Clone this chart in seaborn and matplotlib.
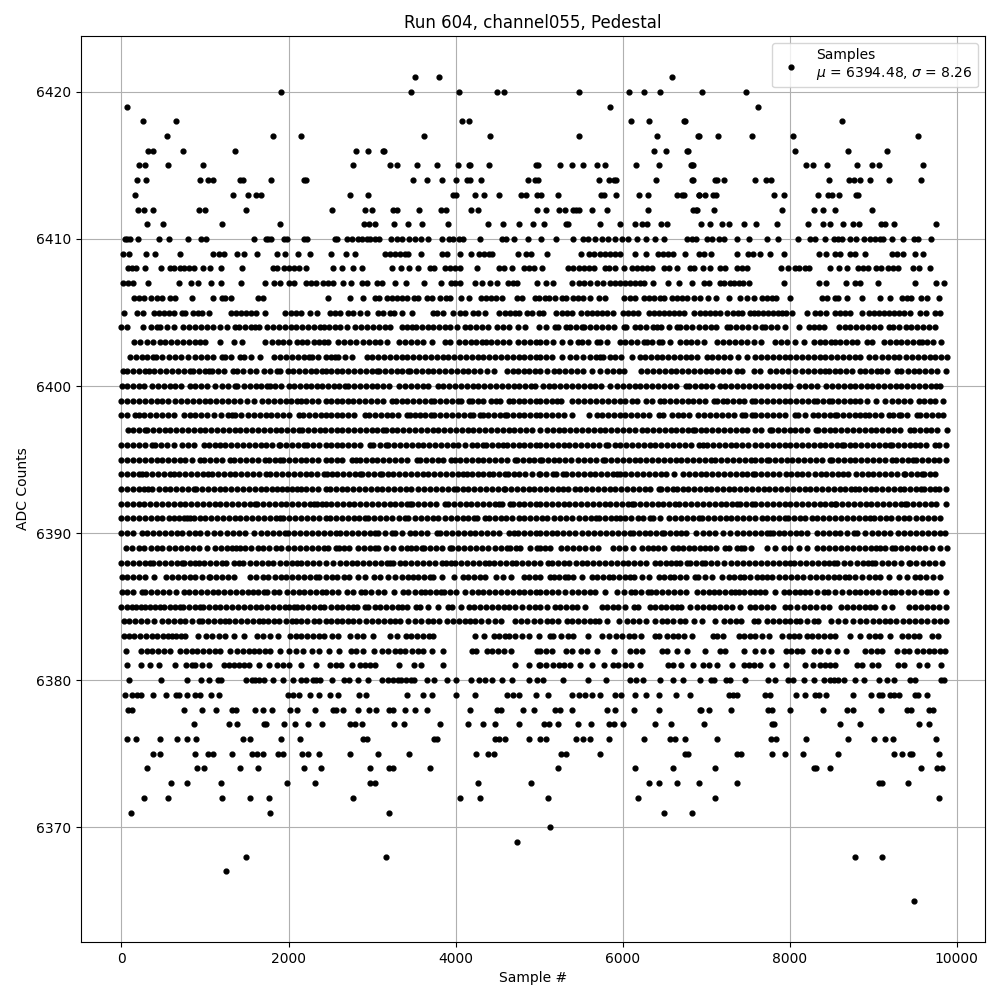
import pandas as pd
import seaborn as sns
import matplotlib
matplotlib.use('Agg')
import matplotlib.pyplot as plt

# sample numbers, one list per ADC level
s6365 = [9488]
s6367 = [1256]
s6368 = [1496, 3164, 8780, 9104]
s6369 = [4732]
s6370 = [5128]
s6371 = [116, 1784, 3200, 6496, 6836]
s6372 = [272, 560, 1208, 1544, 1772, 2768, 4048, 4288, 5104, 6184, 7112, 9788]
s6373 = [596, 788, 1196, 1976, 2312, 2972, 3032, 4264, 4900, 6316, 6436, 6652, 6916, 7376, 9068, 9104, 9416]
s6374 = [308, 908, 992, 1424, 1640, 2180, 2384, 2972, 3200, 3248, 3700, 5224, 6148, 6604, 7112, 8288, 8312, 8480, 9572, 9764, 9824]
s6375 = [380, 464, 884, 1040, 1100, 1328, 1568, 1628, 1700, 1880, 1940, 2156, 2228, 2360, 2732, 3068, 3448, 4240, 4384, 4456, 5260, 5320, 5728, 6748, 6784, 7376, 7424, 7796, 7940, 8156, 8576, 9248, 9344, 9440, 9464, 9788]
s6376 = [68, 176, 464, 668, 788, 896, 1460, 1544, 1916, 2132, 2888, 2936, 3748, 3784, 4468, 4516, 4588, 4876, 5008, 5080, 5440, 5524, 5608, 5836, 6256, 6568, 6628, 6748, 7136, 7784, 7844, 8192, 8696, 9008, 9140, 9236, 9752]
s6377 = [872, 1292, 1388, 1712, 1736, 1952, 2072, 2228, 2396, 2732, 2792, 2876, 3260, 3388, 3820, 4144, 4324, 4468, 4756, 5056, 5116, 5224, 5464, 5620, 5836, 5896, 6004, 6388, 6580, 6980, 7796, 7820, 8600, 8840, 9548, 9668]
s6378 = [80, 128, 752, 968, 1136, 1328, 1376, 1604, 1700, 1808, 2012, 2096, 2312, 2528, 2564, 2648, 2828, 2960, 3044, 3200, 3248, 3400, 3520, 3664, 4168, 4492, 4540, 4804, 4936, 5188, 5248, 5392, 5812, 5908, 6136, 6436, 6928, 6944, 7040, 7304, 7748, 7796, 8000, 8396, 8684, 8756, 9092, 9404, 9452, 9668, 9716]
s6379 = [44, 128, 188, 236, 380, 536, 656, 692, 788, 884, 944, 1076, 1172, 1988, 2048, 2120, 2252, 2360, 2492, 2588, 2840, 2924, 3424, 3616, 3724, 4000, 4228, 4612, 4684, 4756, 4960, 5112, 5392, 5476, 5548, 5632, 5728, 5908, 5980, 6148, 6280, 6436, 6640, 6808, 7280, 7328, 7376, 7712, 7772, 8072, 8180, 8300, 8348, 8432, 8756, 8972, 9068, 9104, 9200, 9248, 9308, 9500, 9536, 9644]
s6380 = [92, 476, 788, 956, 1052, 1160, 1196, 1496, 1568, 1604, 1652, 1712, 1820, 1940, 2048, 2144, 2204, 2288, 2324, 2372, 2516, 2660, 2720, 2828, 2948, 3116, 3188, 3248, 3308, 3352, 3412, 3472, 3508, 3664, 3748, 3904, 4000, 4180, 4276, 4348, 4432, 4552, 4672, 4876, 4972, 5044, 5284, 5584, 5800, 6088, 6160, 6244, 6448, 6604, 6724, 6932, 7064, 7100, 7244, 7292, 7472, 7748, 7832, 7976, 8036, 8168, 8288, 8408, 8480, 8528, 8576, 8648, 8780, 8888, 9068, 9164, 9248, 9440, 9500, 9812, 9848]
s6381 = [64, 232, 344, 448, 640, 776, 840, 884, 964, 1044, 1224, 1290, 1350, 1404, 1464, 1524, 1652, 1772, 1864, 1930, 2004, 2144, 2328, 2496, 2564, 2628, 2756, 2856, 2920, 2980, 3036, 3324, 3508, 3588, 3856, 4716, 4884, 4996, 5012, 5084, 5172, 5240, 5305, 5372, 5492, 5636, 5780, 5884, 5950, 6032, 6100, 6204, 6540, 6600, 6700, 6840, 6964, 7030, 7132, 7312, 7460, 7520, 7572, 7648, 7796, 7956, 8180, 8276, 8368, 8430, 8490, 8548, 8808, 8870, 8990, 9060, 9300, 9368, 9548, 9648, 9820]
s6382 = [48, 236, 300, 370, 440, 510, 584, 704, 770, 840, 910, 980, 1050, 1120, 1184, 1304, 1380, 1450, 1524, 1584, 1650, 1720, 1776, 1904, 2004, 2084, 2176, 2284, 2364, 2488, 2608, 2748, 2804, 2896, 3028, 3116, 3196, 3270, 3340, 3396, 3476, 3545, 3616, 3724, 3856, 4196, 4244, 4376, 4440, 4510, 4576, 4668, 4976, 5016, 5085, 5152, 5324, 5392, 5500, 5572, 5700, 5904, 6092, 6165, 6232, 6472, 6532, 6648, 6772, 6988, 7164, 7232, 7452, 7588, 7688, 7780, 7956, 8020, 8085, 8148, 8288, 8370, 8460, 8564, 8676, 8908, 8980, 9048, 9108, 9288, 9368, 9436, 9528, 9600, 9670, 9735, 9800, 9860]
s6383 = [32, 90, 144, 224, 290, 360, 430, 500, 560, 604, 652, 710, 764, 912, 1016, 1084, 1165, 1244, 1352, 1464, 1624, 1700, 1776, 1876, 2016, 2085, 2150, 2220, 2290, 2360, 2424, 2524, 2596, 2736, 2820, 2896, 3016, 3216, 3296, 3404, 3470, 3540, 3610, 3680, 3736, 4236, 4336, 4456, 4520, 4590, 4644, 4716, 4796, 4884, 4996, 5132, 5172, 5260, 5352, 5412, 5592, 5752, 5844, 5920, 5992, 6072, 6140, 6220, 6392, 6432, 6532, 6600, 6670, 6740, 6828, 7084, 7132, 7200, 7392, 7460, 7524, 7588, 7668, 7756, 7908, 7988, 8050, 8108, 8208, 8275, 8340, 8410, 8480, 8548, 8728, 8840, 8948, 9020, 9088, 9208, 9348, 9420, 9490, 9548, 9708, 9780]
s6384 = [24, 95, 165, 235, 310, 384, 484, 555, 625, 695, 765, 845, 924, 964, 1035, 1105, 1175, 1244, 1284, 1355, 1430, 1500, 1575, 1644, 1696, 1760, 1824, 1884, 1965, 2044, 2084, 2155, 2225, 2300, 2370, 2444, 2510, 2580, 2645, 2708, 2776, 2850, 2925, 3000, 3070, 3140, 3210, 3275, 3336, 3436, 3510, 3590, 3665, 3736, 3804, 3896, 3970, 4040, 4110, 4176, 4236, 4308, 4390, 4470, 4548, 4716, 4785, 4860, 4940, 5016, 5090, 5160, 5230, 5332, 5392, 5465, 5535, 5605, 5665, 5724, 5820, 5952, 6052, 6125, 6200, 6284, 6392, 6472, 6532, 6610, 6684, 6752, 6852, 6952, 7104, 7212, 7285, 7355, 7424, 7572, 7628, 7728, 7800, 7870, 7940, 8010, 8076, 8128, 8210, 8288, 8336, 8500, 8580, 8660, 8756, 8840, 8920, 8996, 9068, 9148, 9208, 9280, 9355, 9430, 9500, 9580, 9650, 9725, 9800, 9876]
s6385 = [0, 60, 124, 176, 230, 284, 336, 400, 464, 504, 576, 640, 704, 736, 810, 880, 944, 976, 1045, 1115, 1185, 1255, 1325, 1395, 1465, 1535, 1605, 1675, 1745, 1815, 1885, 1955, 2010, 2064, 2096, 2164, 2235, 2305, 2376, 2424, 2505, 2575, 2640, 2710, 2776, 2816, 2916, 2956, 3030, 3100, 3170, 3245, 3316, 3356, 3416, 3524, 3576, 3668, 3796, 3916, 3956, 4068, 4156, 4225, 4295, 4365, 4435, 4505, 4575, 4645, 4715, 4795, 4876, 4948, 5016, 5092, 5192, 5252, 5320, 5390, 5460, 5552, 5752, 5820, 5892, 5940, 6035, 6132, 6184, 6324, 6392, 6460, 6524, 6590, 6652, 6700, 6804, 6892, 6960, 7030, 7100, 7170, 7240, 7310, 7412, 7532, 7592, 7660, 7730, 7808, 7940, 8010, 8090, 8168, 8248, 8320, 8400, 8476, 8620, 8688, 8760, 8830, 8900, 8965, 9028, 9128, 9228, 9428, 9500, 9575, 9650, 9720, 9795, 9868]
s6386 = [4, 70, 140, 244, 284, 355, 425, 495, 564, 648, 744, 810, 880, 950, 1020, 1090, 1160, 1230, 1300, 1370, 1440, 1510, 1580, 1640, 1704, 1744, 1832, 1884, 1984, 2050, 2120, 2190, 2260, 2330, 2400, 2444, 2520, 2596, 2696, 2776, 2868, 2916, 2990, 3070, 3148, 3268, 3376, 3436, 3510, 3588, 3636, 3700, 3770, 3828, 3868, 3940, 4010, 4116, 4196, 4265, 4335, 4405, 4475, 4545, 4615, 4685, 4755, 4825, 4895, 4965, 5016, 5085, 5155, 5230, 5312, 5392, 5465, 5535, 5605, 5675, 5792, 5932, 6015, 6100, 6152, 6225, 6300, 6344, 6404, 6475, 6545, 6620, 6690, 6764, 6892, 6960, 7030, 7100, 7152, 7225, 7295, 7352, 7400, 7460, 7530, 7592, 7650, 7708, 7828, 7928, 7988, 8060, 8125, 8188, 8248, 8330, 8408, 8460, 8545, 8628, 8708, 8780, 8850, 8920, 8990, 9060, 9140, 9220, 9268, 9340, 9420, 9490, 9570, 9648, 9688, 9760, 9868]
s6387 = [4, 70, 140, 210, 284, 384, 536, 605, 675, 745, 815, 885, 965, 1044, 1064, 1135, 1205, 1275, 1344, 1544, 1615, 1690, 1760, 1835, 1905, 1975, 2045, 2115, 2185, 2255, 2324, 2364, 2444, 2515, 2585, 2660, 2730, 2836, 2916, 3028, 3096, 3196, 3276, 3355, 3436, 3496, 3556, 3625, 3696, 3736, 3844, 3976, 4084, 4155, 4225, 4290, 4356, 4484, 4570, 4668, 4816, 4885, 4955, 5016, 5132, 5180, 5245, 5312, 5352, 5412, 5512, 5632, 5700, 5770, 5844, 5892, 5960, 6030, 6090, 6140, 6232, 6312, 6432, 6500, 6572, 6620, 6690, 6760, 6872, 6900, 6985, 7072, 7192, 7270, 7340, 7412, 7460, 7532, 7608, 7670, 7728, 7796, 7870, 7940, 8015, 8090, 8165, 8240, 8315, 8390, 8465, 8530, 8588, 8660, 8716, 8790, 8870, 8950, 9028, 9088, 9196, 9316, 9410, 9508, 9568, 9640, 9715, 9808]
s6388 = [0, 70, 140, 210, 280, 344, 376, 445, 515, 590, 660, 724, 752, 815, 880, 924, 984, 1055, 1130, 1204, 1256, 1352, 1405, 1456, 1536, 1605, 1680, 1750, 1820, 1895, 1965, 2040, 2100, 2144, 2224, 2295, 2370, 2444, 2536, 2616, 2684, 2755, 2825, 2895, 2965, 3040, 3110, 3180, 3216, 3256, 3330, 3400, 3470, 3540, 3610, 3680, 3750, 3836, 3884, 3948, 3996, 4065, 4135, 4205, 4280, 4356, 4396, 4456, 4530, 4605, 4676, 4724, 4795, 4865, 4940, 5016, 5112, 5152, 5225, 5295, 5365, 5440, 5512, 5572, 5645, 5715, 5785, 5860, 5930, 6000, 6070, 6140, 6210, 6280, 6392, 6444, 6515, 6585, 6644, 6684, 6772, 6804, 6880, 6952, 6992, 7060, 7135, 7212, 7300, 7375, 7445, 7512, 7588, 7660, 7730, 7800, 7870, 7940, 8008, 8048, 8125, 8200, 8268, 8340, 8410, 8470, 8528, 8568, 8650, 8728, 8808, 8880, 8945, 8988, 9028, 9108, 9180, 9255, 9340, 9428, 9448, 9520, 9595, 9670, 9745, 9828]
s6389 = [56, 130, 205, 275, 350, 420, 490, 565, 635, 710, 780, 855, 925, 1024, 1124, 1190, 1260, 1320, 1376, 1424, 1484, 1555, 1630, 1700, 1770, 1845, 1915, 1990, 2060, 2135, 2205, 2280, 2350, 2424, 2476, 2564, 2604, 2665, 2724, 2828, 2900, 2970, 3036, 3076, 3164, 3256, 3348, 3416, 3468, 3530, 3596, 3628, 3695, 3765, 3835, 3936, 3956, 4030, 4100, 4175, 4245, 4320, 4395, 4470, 4545, 4616, 4656, 4720, 4776, 4896, 4976, 5012, 5075, 5132, 5260, 5330, 5405, 5480, 5555, 5630, 5712, 5892, 5952, 6024, 6120, 6232, 6300, 6370, 6430, 6492, 6600, 6660, 6725, 6792, 6852, 6925, 6990, 7052, 7120, 7232, 7272, 7372, 7420, 7460, 7540, 7728, 7828, 7928, 8000, 8108, 8208, 8328, 8400, 8470, 8545, 8615, 8690, 8760, 8830, 8900, 8970, 9030, 9088, 9148, 9228, 9268, 9340, 9410, 9480, 9555, 9628, 9708, 9800, 9888]
s6390 = [0, 70, 140, 244, 304, 375, 445, 515, 590, 660, 730, 805, 875, 944, 1024, 1112, 1185, 1260, 1330, 1405, 1484, 1592, 1665, 1740, 1815, 1890, 1964, 1992, 2065, 2140, 2210, 2285, 2355, 2424, 2500, 2564, 2616, 2690, 2760, 2835, 2905, 2975, 3036, 3068, 3150, 3236, 3276, 3360, 3456, 3516, 3590, 3660, 3776, 3816, 3890, 3960, 4030, 4105, 4176, 4236, 4310, 4380, 4450, 4516, 4636, 4696, 4748, 4820, 4890, 4960, 5016, 5084, 5150, 5220, 5284, 5355, 5432, 5512, 5585, 5660, 5730, 5805, 5880, 5950, 6020, 6084, 6124, 6195, 6265, 6335, 6405, 6472, 6500, 6570, 6640, 6700, 6764, 6884, 6960, 7032, 7112, 7200, 7292, 7372, 7445, 7520, 7592, 7660, 7725, 7768, 7808, 7870, 7928, 8008, 8075, 8140, 8208, 8328, 8400, 8470, 8540, 8610, 8690, 8768, 8808, 8900, 8988, 9060, 9135, 9205, 9295, 9368, 9448, 9520, 9590, 9660, 9730, 9800, 9860]
s6391 = [0, 70, 140, 210, 280, 350, 420, 490, 564, 632, 684, 744, 785, 824, 864, 935, 1005, 1075, 1145, 1215, 1285, 1355, 1425, 1495, 1565, 1635, 1705, 1775, 1845, 1904, 1936, 2010, 2080, 2150, 2220, 2295, 2370, 2444, 2496, 2570, 2640, 2710, 2780, 2850, 2916, 2948, 3020, 3095, 3170, 3245, 3320, 3396, 3428, 3516, 3590, 3660, 3730, 3796, 3876, 3945, 4015, 4085, 4150, 4216, 4256, 4356, 4396, 4470, 4540, 4610, 4680, 4755, 4825, 4895, 4965, 5032, 5100, 5175, 5250, 5325, 5400, 5475, 5550, 5620, 5684, 5724, 5790, 5860, 5920, 5972, 6032, 6105, 6180, 6250, 6324, 6364, 6444, 6552, 6632, 6700, 6770, 6840, 6912, 6952, 7025, 7095, 7165, 7235, 7305, 7375, 7445, 7515, 7592, 7665, 7735, 7805, 7875, 7948, 7976, 8050, 8120, 8190, 8265, 8335, 8405, 8475, 8545, 8615, 8688, 8756, 8830, 8900, 8968, 9008, 9080, 9150, 9220, 9295, 9365, 9435, 9510, 9585, 9660, 9730, 9808]
s6392 = [0, 68, 135, 205, 275, 345, 415, 485, 555, 625, 695, 765, 835, 905, 975, 1045, 1115, 1185, 1255, 1325, 1395, 1465, 1535, 1604, 1624, 1695, 1765, 1835, 1905, 1975, 2045, 2115, 2185, 2255, 2304, 2336, 2400, 2444, 2510, 2580, 2650, 2720, 2790, 2860, 2930, 3000, 3070, 3140, 3210, 3280, 3350, 3420, 3456, 3484, 3555, 3625, 3695, 3765, 3876, 3908, 3980, 4050, 4120, 4190, 4260, 4330, 4400, 4470, 4516, 4556, 4656, 4684, 4755, 4825, 4895, 4965, 5016, 5085, 5155, 5225, 5295, 5365, 5435, 5505, 5575, 5645, 5715, 5785, 5855, 5925, 5995, 6065, 6112, 6140, 6210, 6280, 6350, 6420, 6490, 6560, 6632, 6672, 6752, 6825, 6895, 6965, 7035, 7105, 7175, 7245, 7315, 7372, 7404, 7475, 7545, 7592, 7660, 7730, 7800, 7870, 7940, 8010, 8080, 8150, 8220, 8290, 8360, 8430, 8500, 8540, 8560, 8630, 8700, 8770, 8840, 8910, 8980, 9050, 9120, 9190, 9260, 9330, 9388, 9408, 9480, 9550, 9620, 9690, 9760, 9868]
s6393 = [0, 70, 140, 205, 264, 312, 364, 444, 515, 585, 655, 725, 795, 864, 896, 965, 1035, 1105, 1175, 1245, 1315, 1385, 1455, 1525, 1595, 1665, 1735, 1805, 1865, 1924, 1984, 2045, 2104, 2144, 2215, 2285, 2355, 2444, 2496, 2565, 2635, 2705, 2775, 2845, 2915, 2985, 3055, 3125, 3195, 3265, 3335, 3405, 3468, 3556, 3625, 3695, 3765, 3835, 3905, 3976, 4016, 4085, 4155, 4225, 4295, 4365, 4435, 4505, 4576, 4596, 4665, 4735, 4805, 4875, 4945, 5016, 5085, 5155, 5225, 5292, 5352, 5425, 5495, 5565, 5635, 5705, 5775, 5845, 5915, 5985, 6055, 6125, 6195, 6265, 6335, 6432, 6460, 6530, 6604, 6652, 6720, 6790, 6860, 6932, 7000, 7060, 7130, 7200, 7270, 7340, 7410, 7480, 7550, 7620, 7690, 7760, 7830, 7900, 7970, 8040, 8110, 8180, 8250, 8320, 8390, 8460, 8530, 8600, 8670, 8740, 8788, 8828, 8900, 8970, 9040, 9110, 9180, 9250, 9320, 9368, 9448, 9515, 9580, 9608, 9680, 9748, 9788, 9876]
s6394 = [0, 70, 140, 205, 244, 296, 365, 435, 505, 575, 624, 692, 764, 835, 905, 975, 1036, 1084, 1155, 1225, 1295, 1365, 1435, 1505, 1575, 1645, 1736, 1784, 1855, 1925, 1995, 2065, 2135, 2205, 2275, 2345, 2424, 2456, 2516, 2585, 2655, 2725, 2795, 2856, 2884, 2955, 3025, 3096, 3124, 3190, 3256, 3324, 3395, 3465, 3535, 3605, 3675, 3745, 3815, 3885, 3955, 4025, 4084, 4136, 4196, 4265, 4335, 4396, 4448, 4520, 4590, 4628, 4696, 4765, 4835, 4916, 4996, 5012, 5085, 5164, 5204, 5292, 5324, 5395, 5465, 5535, 5605, 5675, 5745, 5815, 5885, 5932, 5964, 6035, 6105, 6175, 6245, 6315, 6385, 6455, 6525, 6620, 6724, 6795, 6865, 6935, 7005, 7075, 7145, 7215, 7285, 7355, 7425, 7495, 7565, 7592, 7660, 7730, 7800, 7870, 7956, 8012, 8085, 8155, 8225, 8300, 8376, 8436, 8505, 8575, 8645, 8700, 8796, 8865, 8935, 9005, 9075, 9145, 9215, 9285, 9368, 9388, 9460, 9530, 9588, 9616, 9685, 9748]
s6395 = [0, 70, 140, 210, 280, 350, 420, 490, 560, 630, 700, 764, 844, 936, 992, 1065, 1135, 1205, 1304, 1352, 1425, 1495, 1565, 1635, 1724, 1764, 1835, 1904, 1936, 2005, 2075, 2145, 2215, 2285, 2355, 2444, 2505, 2575, 2645, 2764, 2804, 2856, 2925, 2995, 3065, 3135, 3205, 3275, 3345, 3415, 3536, 3576, 3645, 3715, 3785, 3855, 3948, 3988, 4055, 4125, 4195, 4265, 4335, 4405, 4475, 4545, 4615, 4716, 4736, 4805, 4875, 4945, 5016, 5032, 5105, 5175, 5245, 5315, 5385, 5472, 5544, 5615, 5685, 5764, 5792, 5865, 5935, 6005, 6075, 6145, 6215, 6285, 6355, 6425, 6495, 6565, 6635, 6705, 6775, 6845, 6915, 6985, 7060, 7112, 7185, 7255, 7325, 7395, 7465, 7535, 7592, 7660, 7728, 7756, 7825, 7895, 7965, 8035, 8105, 8175, 8245, 8315, 8385, 8488, 8508, 8580, 8650, 8720, 8790, 8860, 8930, 9000, 9070, 9140, 9228, 9276, 9345, 9415, 9476, 9516, 9585, 9655, 9725, 9795, 9876]
s6396 = [0, 70, 140, 210, 280, 364, 404, 475, 545, 624, 724, 795, 865, 984, 1044, 1124, 1176, 1245, 1315, 1385, 1455, 1525, 1595, 1665, 1735, 1805, 1884, 1904, 1975, 2045, 2115, 2184, 2224, 2295, 2365, 2444, 2505, 2575, 2645, 2715, 2785, 2855, 2976, 3016, 3090, 3164, 3196, 3265, 3335, 3405, 3475, 3545, 3615, 3685, 3755, 3825, 3895, 3965, 4035, 4116, 4196, 4260, 4324, 4364, 4435, 4505, 4564, 4616, 4685, 4755, 4825, 4895, 4965, 5016, 5085, 5155, 5225, 5295, 5365, 5435, 5505, 5575, 5645, 5715, 5804, 5832, 5905, 5975, 6045, 6115, 6185, 6255, 6325, 6395, 6465, 6535, 6605, 6675, 6745, 6815, 6912, 6960, 7012, 7085, 7155, 7225, 7295, 7365, 7435, 7505, 7592, 7660, 7730, 7800, 7870, 7940, 8010, 8080, 8150, 8220, 8290, 8360, 8430, 8500, 8570, 8628, 8648, 8720, 8790, 8860, 8930, 9000, 9070, 9140, 9208, 9228, 9300, 9370, 9440, 9508, 9568, 9640, 9748, 9788, 9876]
s6397 = [72, 140, 210, 284, 304, 375, 445, 515, 585, 655, 725, 795, 865, 935, 1005, 1075, 1145, 1215, 1285, 1355, 1425, 1495, 1565, 1635, 1705, 1775, 1845, 1915, 1985, 2055, 2124, 2164, 2235, 2305, 2375, 2436, 2505, 2575, 2645, 2715, 2785, 2855, 2925, 2995, 3065, 3136, 3164, 3235, 3305, 3375, 3445, 3515, 3585, 3655, 3725, 3795, 3865, 3935, 4005, 4075, 4145, 4215, 4285, 4355, 4425, 4495, 4565, 4635, 4705, 4775, 4845, 4915, 5016, 5092, 5165, 5235, 5305, 5375, 5445, 5515, 5585, 5655, 5725, 5795, 5865, 5935, 6005, 6075, 6145, 6232, 6292, 6365, 6435, 6505, 6575, 6645, 6715, 6785, 6844, 6864, 6935, 7005, 7075, 7145, 7215, 7285, 7355, 7425, 7495, 7592, 7660, 7768, 7788, 7860, 7930, 8000, 8070, 8140, 8210, 8316, 8340, 8410, 8480, 8550, 8620, 8690, 8760, 8830, 8900, 8970, 9040, 9110, 9180, 9250, 9320, 9448, 9488, 9560, 9630, 9700, 9770, 9888]
s6398 = [0, 70, 164, 204, 275, 345, 415, 485, 555, 625, 744, 816, 885, 952, 1024, 1112, 1192, 1272, 1324, 1364, 1432, 1512, 1585, 1655, 1725, 1795, 1865, 1935, 2005, 2124, 2176, 2244, 2315, 2385, 2444, 2505, 2575, 2645, 2715, 2785, 2916, 2964, 3035, 3108, 3176, 3245, 3315, 3416, 3456, 3520, 3576, 3636, 3708, 3748, 3820, 3890, 3960, 4030, 4100, 4176, 4204, 4296, 4324, 4395, 4465, 4535, 4588, 4616, 4685, 4755, 4825, 4895, 4965, 5016, 5085, 5155, 5225, 5295, 5392, 5604, 5700, 5752, 5825, 5895, 5965, 6035, 6105, 6175, 6245, 6315, 6432, 6484, 6592, 6660, 6730, 6800, 6900, 6980, 7052, 7125, 7195, 7265, 7335, 7432, 7472, 7552, 7588, 7660, 7730, 7800, 7870, 7940, 8060, 8100, 8180, 8276, 8345, 8415, 8485, 8548, 8568, 8640, 8710, 8780, 8850, 8900, 8948, 9020, 9090, 9196, 9236, 9308, 9340, 9410, 9528, 9568, 9640, 9710, 9780, 9836]
s6399 = [0, 70, 140, 210, 280, 350, 420, 490, 560, 644, 712, 785, 855, 925, 995, 1065, 1135, 1205, 1275, 1345, 1415, 1504, 1584, 1684, 1755, 1825, 1895, 1965, 2035, 2104, 2144, 2215, 2284, 2352, 2444, 2505, 2575, 2645, 2708, 2776, 2850, 2920, 2990, 3060, 3130, 3236, 3284, 3355, 3425, 3495, 3565, 3635, 3708, 3748, 3820, 3890, 3960, 4028, 4068, 4156, 4196, 4265, 4335, 4428, 4484, 4536, 4636, 4684, 4755, 4825, 4895, 4965, 5016, 5085, 5155, 5220, 5260, 5392, 5472, 5544, 5615, 5685, 5755, 5825, 5895, 5965, 6035, 6112, 6172, 6284, 6355, 6452, 6500, 6570, 6640, 6710, 6780, 6850, 6920, 6990, 7092, 7132, 7204, 7252, 7320, 7390, 7460, 7552, 7588, 7660, 7730, 7800, 7870, 7940, 8010, 8080, 8150, 8220, 8288, 8328, 8400, 8476, 8508, 8580, 8650, 8720, 8790, 8848, 8928, 9036, 9140, 9228, 9300, 9370, 9440, 9548, 9608, 9680, 9748, 9840]
s6400 = [4, 70, 140, 205, 264, 364, 435, 505, 575, 645, 715, 816, 885, 955, 1025, 1124, 1204, 1275, 1364, 1384, 1464, 1535, 1605, 1675, 1744, 1784, 1844, 1915, 2004, 2064, 2135, 2205, 2275, 2345, 2404, 2468, 2540, 2610, 2676, 2716, 2785, 2855, 2925, 2995, 3065, 3135, 3205, 3324, 3396, 3465, 3535, 3616, 3676, 3796, 3856, 3925, 3995, 4065, 4135, 4205, 4275, 4345, 4415, 4485, 4555, 4625, 4695, 4765, 4835, 4905, 4956, 5044, 5115, 5185, 5255, 5325, 5395, 5465, 5535, 5605, 5675, 5745, 5852, 5932, 6005, 6075, 6145, 6215, 6285, 6355, 6425, 6495, 6565, 6635, 6764, 6792, 6865, 6935, 7005, 7075, 7172, 7232, 7305, 7375, 7445, 7515, 7592, 7660, 7730, 7800, 7870, 7940, 8010, 8108, 8188, 8260, 8328, 8440, 8508, 8580, 8650, 8720, 8790, 8860, 8928, 8988, 9060, 9130, 9200, 9270, 9340, 9410, 9480, 9550, 9620, 9690, 9760, 9808]
s6401 = [16, 64, 135, 205, 284, 324, 395, 465, 535, 605, 675, 745, 824, 856, 925, 995, 1044, 1084, 1155, 1225, 1336, 1384, 1455, 1544, 1608, 1704, 1775, 1864, 1896, 1992, 2056, 2124, 2195, 2265, 2335, 2405, 2444, 2505, 2575, 2645, 2715, 2785, 2855, 2925, 2995, 3056, 3084, 3155, 3225, 3295, 3365, 3428, 3456, 3525, 3595, 3665, 3735, 3805, 3875, 3945, 4015, 4085, 4155, 4225, 4295, 4376, 4456, 4616, 4685, 4748, 4816, 4885, 4955, 5016, 5100, 5175, 5245, 5315, 5385, 5455, 5525, 5632, 5732, 5812, 5885, 5955, 6012, 6220, 6295, 6365, 6435, 6505, 6575, 6645, 6715, 6785, 6855, 6925, 6995, 7065, 7135, 7205, 7275, 7372, 7432, 7572, 7648, 7768, 7840, 7910, 7980, 8068, 8148, 8220, 8290, 8360, 8420, 8468, 8540, 8610, 8680, 8750, 8848, 8908, 8980, 9050, 9100, 9168, 9288, 9340, 9415, 9485, 9555, 9625, 9695, 9765, 9868]
s6402 = [104, 175, 245, 300, 376, 416, 490, 564, 644, 715, 792, 884, 955, 1025, 1095, 1204, 1244, 1315, 1424, 1472, 1545, 1664, 1832, 1904, 1975, 2045, 2115, 2185, 2244, 2284, 2355, 2444, 2505, 2556, 2596, 2680, 2764, 2936, 3005, 3075, 3145, 3215, 3285, 3355, 3425, 3495, 3565, 3635, 3705, 3775, 3845, 3915, 3985, 4055, 4125, 4195, 4265, 4335, 4405, 4475, 4545, 4615, 4685, 4755, 4825, 4895, 4965, 5016, 5085, 5155, 5272, 5372, 5444, 5532, 5612, 5680, 5732, 5772, 5845, 5915, 5985, 6112, 6204, 6272, 6345, 6412, 6472, 6545, 6615, 6685, 6755, 6825, 6895, 7012, 7072, 7145, 7215, 7285, 7380, 7492, 7592, 7660, 7730, 7800, 7870, 7940, 8010, 8080, 8150, 8220, 8290, 8360, 8430, 8500, 8570, 8640, 8710, 8780, 8850, 8948, 9020, 9108, 9180, 9250, 9308, 9396, 9470, 9540, 9610, 9688, 9740, 9815, 9888]
s6403 = [152, 225, 300, 375, 464, 524, 595, 665, 735, 805, 875, 945, 1004, 1176, 1344, 1444, 1724, 1800, 1870, 1940, 2004, 2104, 2164, 2224, 2300, 2370, 2424, 2476, 2596, 2670, 2735, 2804, 2896, 2965, 3030, 3096, 3184, 3324, 3395, 3465, 3535, 3605, 3716, 3876, 3936, 4036, 4110, 4180, 4250, 4316, 4364, 4424, 4495, 4565, 4644, 4748, 4820, 4890, 4960, 5012, 5084, 5164, 5272, 5372, 5472, 5512, 5590, 5692, 5732, 5820, 5964, 6035, 6105, 6175, 6252, 6292, 6352, 6432, 6472, 6564, 6684, 6755, 6825, 6892, 6972, 7132, 7205, 7275, 7345, 7415, 7485, 7572, 7660, 7828, 7900, 7970, 8068, 8168, 8288, 8360, 8430, 8500, 8548, 8608, 8680, 8750, 8808, 8928, 8988, 9128, 9200, 9270, 9340, 9410, 9480, 9548, 9588, 9648, 9716, 9816]
s6404 = [0, 70, 256, 350, 420, 464, 544, 624, 736, 810, 880, 950, 1020, 1090, 1176, 1264, 1364, 1404, 1475, 1545, 1604, 1644, 1744, 1815, 1885, 1955, 2025, 2095, 2165, 2235, 2305, 2375, 2424, 2484, 2556, 2616, 2696, 2796, 2870, 2940, 3010, 3080, 3150, 3216, 3356, 3420, 3484, 3524, 3595, 3665, 3735, 3805, 3870, 3936, 4016, 4108, 4176, 4250, 4320, 4390, 4496, 4564, 4644, 4748, 4828, 4996, 5080, 5192, 5232, 5324, 5372, 5440, 5512, 5540, 5615, 5685, 5755, 5825, 5895, 6012, 6044, 6152, 6204, 6285, 6364, 6412, 6460, 6555, 6652, 6692, 6760, 6832, 6912, 6985, 7055, 7125, 7252, 7292, 7365, 7435, 7505, 7592, 7668, 7708, 7780, 7850, 7940, 8108, 8228, 8290, 8348, 8416, 8588, 8660, 8730, 8800, 8870, 8940, 9010, 9080, 9188, 9244, 9316, 9390, 9460, 9530, 9600, 9670, 9748]
s6405 = [32, 184, 252, 384, 444, 504, 564, 624, 724, 764, 856, 912, 964, 1052, 1312, 1376, 1436, 1496, 1556, 1616, 1724, 1960, 2024, 2084, 2144, 2256, 2336, 2496, 2556, 2616, 2708, 2776, 2856, 2936, 3076, 3136, 3216, 3268, 3356, 3484, 3736, 3776, 3856, 3964, 4056, 4116, 4204, 4268, 4356, 4516, 4588, 4656, 4716, 4764, 4856, 4916, 4996, 5044, 5204, 5272, 5340, 5400, 5500, 5572, 5632, 5692, 5752, 5812, 5884, 6004, 6060, 6120, 6180, 6312, 6372, 6432, 6492, 6552, 6612, 6672, 6732, 6852, 6932, 6992, 7052, 7112, 7164, 7252, 7320, 7384, 7432, 7532, 7572, 7628, 7688, 7748, 7808, 7868, 7908, 7956, 8028, 8204, 8300, 8368, 8436, 8548, 8608, 8668, 8728, 8868, 8948, 9008, 9068, 9128, 9188, 9248, 9308, 9368, 9448, 9568, 9636, 9740, 9808]
s6406 = [144, 204, 264, 352, 424, 484, 576, 644, 844, 1092, 1204, 1244, 1312, 1632, 1692, 2476, 2740, 2896, 3036, 3088, 3176, 3236, 3296, 3356, 3416, 3508, 3556, 3656, 3724, 3816, 3884, 3936, 4060, 4156, 4308, 4364, 4424, 4484, 4556, 4736, 4796, 4956, 4996, 5072, 5124, 5192, 5272, 5324, 5412, 5472, 5532, 5616, 5724, 5792, 6016, 6092, 6152, 6260, 6312, 6372, 6444, 6492, 6592, 6652, 6712, 6772, 6852, 6924, 7024, 7120, 7272, 7404, 7492, 7572, 7668, 7728, 7788, 7836, 8008, 8388, 8448, 8540, 8580, 8692, 8868, 9080, 9208, 9348, 9408, 9456, 9572, 9644, 9796]
s6407 = [16, 72, 136, 320, 684, 828, 912, 1068, 1188, 1428, 1716, 1824, 1896, 2004, 2064, 2208, 2264, 2328, 2416, 2476, 2536, 2656, 2752, 2876, 2936, 3056, 3124, 3280, 3404, 3628, 3832, 3944, 3996, 4048, 4228, 4320, 4408, 4492, 4628, 4684, 4736, 4972, 5088, 5172, 5400, 5484, 5544, 5616, 5700, 5772, 5852, 5912, 5972, 6032, 6092, 6152, 6212, 6260, 6368, 6540, 6672, 6828, 6972, 7032, 7164, 7220, 7284, 7340, 7400, 7440, 7512, 7928, 8348, 8440, 8672, 8780, 8848, 9056, 9500, 9752, 9848]
s6408 = [72, 124, 176, 276, 468, 576, 624, 696, 752, 804, 872, 972, 1056, 1188, 1440, 1812, 1864, 1944, 2004, 2064, 2124, 2204, 2536, 2636, 2776, 2884, 3244, 3352, 3448, 3556, 3696, 3748, 3876, 3936, 3996, 4056, 4252, 4516, 4576, 4676, 4816, 4876, 4936, 5032, 5352, 5412, 5484, 5544, 5604, 5664, 5792, 5840, 5912, 6012, 6112, 6172, 6232, 6292, 6352, 6492, 6552, 6648, 6804, 6860, 6960, 7052, 7172, 7232, 7372, 7432, 7492, 7900, 7976, 8060, 8108, 8180, 8228, 8480, 8596, 8688, 8820, 8876, 8940, 9036, 9100, 9180, 9236, 9300, 9476, 9548, 9680]
s6409 = [16, 84, 288, 396, 700, 1096, 1164, 1224, 1384, 1464, 1620, 1864, 1956, 2112, 2256, 2512, 2692, 2800, 3156, 3216, 3276, 3336, 3396, 3436, 3592, 3836, 3896, 4056, 4188, 4276, 4336, 4396, 4436, 4744, 4848, 4900, 5100, 5508, 5604, 5664, 5732, 5792, 5852, 5912, 5972, 6144, 6284, 6420, 6484, 6540, 6600, 6744, 6912, 6972, 7060, 7368, 7500, 7560, 7648, 7768, 7928, 8348, 8440, 8548, 8608, 8720, 8788, 8900, 9228, 9288, 9356, 9500, 9604]
s6410 = [36, 68, 104, 200, 452, 572, 800, 956, 1016, 1592, 1736, 1760, 1788, 1952, 1976, 2180, 2216, 2552, 2584, 2696, 2756, 2828, 2876, 2936, 2972, 3032, 3080, 3224, 3296, 3364, 3448, 3520, 3592, 3676, 3844, 3928, 3964, 4036, 4084, 4288, 4552, 4600, 4696, 4864, 5020, 5200, 5404, 5524, 5584, 5668, 5752, 5824, 5908, 5992, 6064, 6168, 6280, 6388, 6496, 6772, 6832, 6880, 7016, 7076, 7160, 7220, 7376, 7520, 7736, 7868, 8096, 8240, 8300, 8420, 8528, 8576, 8624, 8720, 8792, 8888, 8960, 9020, 9080, 9116, 9224, 9356, 9488, 9536, 9692]
s6411 = [308, 500, 1208, 1904, 2900, 2960, 3032, 3260, 3436, 3604, 3916, 4384, 4564, 4756, 4924, 5056, 5320, 5344, 5728, 5968, 6148, 6232, 6292, 6460, 6532, 6944, 7052, 7196, 7280, 7460, 7604, 7856, 8216, 8396, 8480, 8636, 8756, 8828, 9092, 9140, 9248, 9752]
s6412 = [200, 272, 380, 932, 1004, 1496, 2516, 2912, 2996, 3248, 3296, 3568, 3832, 3892, 4180, 4264, 4972, 5080, 5236, 5308, 5404, 5440, 5476, 5632, 5812, 6304, 6880, 6848, 6896, 7100, 7904, 8288, 8396, 8540, 8984]
s6413 = [164, 1340, 1520, 1616, 1676, 2732, 2948, 3964, 4000, 4228, 4336, 4516, 4780, 4840, 4972, 5020, 5224, 5740, 5776, 5920, 6196, 6304, 6652, 6736, 6916, 6716, 6920, 6992, 7088, 7124, 7820, 7928, 8336, 8456, 8504, 8588, 8792, 8816]
s6414 = [188, 296, 944, 1040, 1100, 1420, 1460, 1796, 2180, 2204, 3496, 3664, 3844, 4000, 4132, 4168, 4300, 4864, 4948, 4984, 5716, 5836, 5896, 5920, 6400, 6844, 6836, 7112, 7136, 7220, 7592, 7724, 7784, 8468, 8708, 8768, 8840, 8960, 9188, 9572]
s6415 = [212, 284, 560, 980, 2768, 3212, 3296, 3544, 3784, 4024, 4156, 4176, 4396, 4960, 4984, 5248, 5392, 5524, 5692, 5788, 6160, 6436, 6836, 6824, 6848, 8192, 8276, 8444, 8804, 8984, 9068, 9596]
s6416 = [320, 380, 740, 1364, 2804, 2948, 3128, 3148, 6376, 6520, 6784, 6776, 8060, 8696, 9164]
s6417 = [548, 1820, 2144, 3628, 4408, 5476, 6412, 6916, 6908, 7148, 7556, 8036, 9536]
s6418 = [260, 656, 4072, 4156, 6100, 6316, 6748, 6740, 8624]
s6419 = [68, 5848, 7628]
s6420 = [1916, 3472, 4036, 4492, 4576, 5476, 6076, 6256, 6448, 6956, 7484]
s6421 = [3520, 3808, 6592]

levels = {6365: s6365, 6367: s6367, 6368: s6368, 6369: s6369, 6370: s6370, 6371: s6371, 6372: s6372,
          6373: s6373, 6374: s6374, 6375: s6375, 6376: s6376, 6377: s6377, 6378: s6378, 6379: s6379,
          6380: s6380, 6381: s6381, 6382: s6382, 6383: s6383, 6384: s6384, 6385: s6385, 6386: s6386,
          6387: s6387, 6388: s6388, 6389: s6389, 6390: s6390, 6391: s6391, 6392: s6392, 6393: s6393,
          6394: s6394, 6395: s6395, 6396: s6396, 6397: s6397, 6398: s6398, 6399: s6399, 6400: s6400,
          6401: s6401, 6402: s6402, 6403: s6403, 6404: s6404, 6405: s6405, 6406: s6406, 6407: s6407,
          6408: s6408, 6409: s6409, 6410: s6410, 6411: s6411, 6412: s6412, 6413: s6413, 6414: s6414,
          6415: s6415, 6416: s6416, 6417: s6417, 6418: s6418, 6419: s6419, 6420: s6420, 6421: s6421}

df = pd.DataFrame([(x, adc) for adc, xs in levels.items() for x in xs], columns=['sample', 'adc'])

fig, ax = plt.subplots(figsize=(10, 10), dpi=100)
# zorder 3 keeps the dots on top of the grid
sns.scatterplot(data=df, x='sample', y='adc', color='black', marker='.', s=48, edgecolor='black', linewidth=1,
                label='Samples\n$\\mu$ = 6394.48, $\\sigma$ = 8.26', zorder=3, ax=ax)
ax.set_xlim(-485, 10341)
ax.set_ylim(6362.2, 6423.8)
ax.set_yticks([6370, 6380, 6390, 6400, 6410, 6420])
ax.ticklabel_format(useOffset=False, style='plain', axis='y')
ax.set_title('Run 604, channel055, Pedestal')
ax.set_xlabel('Sample #')
ax.set_ylabel('ADC Counts')
ax.grid(True)
ax.legend(loc='upper right')
fig.subplots_adjust(left=0.081, right=0.985, top=0.964, bottom=0.058)
fig.savefig('out.png', dpi=100)
